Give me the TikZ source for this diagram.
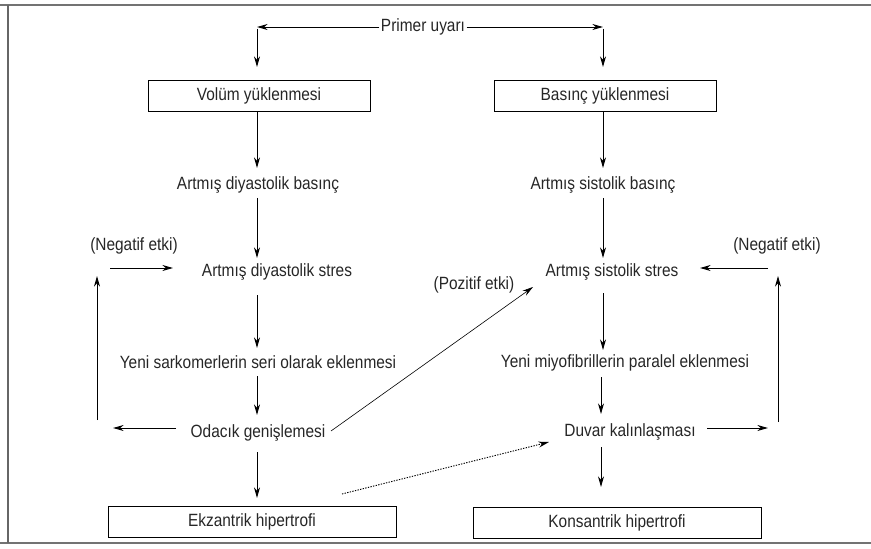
\documentclass[tikz,border=0pt]{standalone}
\usepackage{fontspec}
\setmainfont[FakeStretch=0.87]{Liberation Sans}
\usetikzlibrary{arrows.meta}
\begin{document}
\begin{tikzpicture}[x=0.75pt,y=-0.75pt,
  lbl/.style={inner sep=1pt,font=\fontsize{13.3}{15}\selectfont,text=black!85},
  boxn/.style={draw,line width=0.7pt,minimum width=222*0.75pt,minimum height=31*0.75pt,inner sep=0pt,font=\fontsize{13.3}{15}\selectfont,text=black!85},
  boxw/.style={boxn,minimum width=288*0.75pt},
  arr/.style={line width=0.7pt,-{Stealth[length=8pt,width=4.5pt]}},
  thin arr/.style={line width=0.45pt,-{Stealth[length=8pt,width=4.5pt]}},
  dot arr/.style={line width=0.7pt,dash pattern=on 1pt off 1pt,-{Stealth[length=8pt,width=4.5pt]}}]
\useasboundingbox (0,0) rectangle (871,549);
% frame
\draw[black!55,line width=0.8pt] (0,5) -- (871,5);
\draw[black!55,line width=0.8pt] (0,543) -- (871,543);
\draw[black!60,line width=0.8pt] (8,5) -- (8,543);
% nodes
\node[lbl] (primer) at (423,27) {Primer uyarı};
\coordinate (cL) at (257,27);
\coordinate (cR) at (603,27);
\node[boxn] (vol) at (259,96) {Volüm yüklenmesi};
\node[boxn] (bas) at (605,96) {Basınç yüklenmesi};
\node[lbl] (adb) at (258,185) {Artmış diyastolik basınç};
\node[lbl] (asb) at (603,185) {Artmış sistolik basınç};
\node[lbl] (ads) at (277,272) {Artmış diyastolik stres};
\node[lbl] (ass) at (612,272) {Artmış sistolik stres};
\node[lbl] (negL) at (134,246) {(Negatif etki)};
\node[lbl] (negR) at (777,246) {(Negatif etki)};
\node[lbl] (poz) at (474,285) {(Pozitif etki)};
\node[lbl] (yss) at (258,362) {Yeni sarkomerlerin seri olarak eklenmesi};
\node[lbl] (ymp) at (625,363) {Yeni miyofibrillerin paralel eklenmesi};
\node[lbl] (odg) at (258,433) {Odacık genişlemesi};
\node[lbl] (duv) at (630,432) {Duvar kalınlaşması};
\node[boxw] (ekz) at (252,522) {Ekzantrik hipertrofi};
\node[boxw] (kon) at (617,523) {Konsantrik hipertrofi};
% helper coordinates
\coordinate (nlA) at (110,268);
\coordinate (nlB) at (173,268);
\coordinate (nrA) at (768,268);
\coordinate (nrB) at (700,268);
\coordinate (ulA) at (97,420);
\coordinate (ulB) at (97,276);
\coordinate (urA) at (778,422);
\coordinate (urB) at (778,276);
\coordinate (olA) at (176,428);
\coordinate (olB) at (113,428);
\coordinate (drA) at (707,428);
\coordinate (drB) at (768,428);
\coordinate (pzA) at (331,431);
\coordinate (pzB) at (533,287);
\coordinate (dtA) at (342,494);
\coordinate (dtB) at (549,442);
% connectors
\draw[arr] (primer.west) -- (cL);
\draw[arr] (primer.east) -- (cR);
\draw[arr] ([yshift=-1.5pt]cL) -- (257,67);
\draw[arr] ([yshift=-1.5pt]cR) -- (603,67);
\draw[arr] (257,112) -- (257,168);
\draw[arr] (603,112) -- (603,168);
\draw[arr] (257,198) -- (257,258);
\draw[arr] (603,198) -- (603,258);
\draw[arr] (257,295) -- (257,348);
\draw[arr] (603,293) -- (603,350);
\draw[arr] (257,376) -- (257,415);
\draw[arr] (601,377) -- (601,414);
\draw[arr] (257,452) -- (257,498);
\draw[arr] (601,447) -- (601,487);
\draw[arr] (nlA) -- (nlB);
\draw[arr] (nrA) -- (nrB);
\draw[arr] (ulA) -- (ulB);
\draw[arr] (urA) -- (urB);
\draw[arr] (olA) -- (olB);
\draw[arr] (drA) -- (drB);
\draw[thin arr] (pzA) -- (pzB);
\draw[dot arr] (dtA) -- (dtB);
\end{tikzpicture}
\end{document}
